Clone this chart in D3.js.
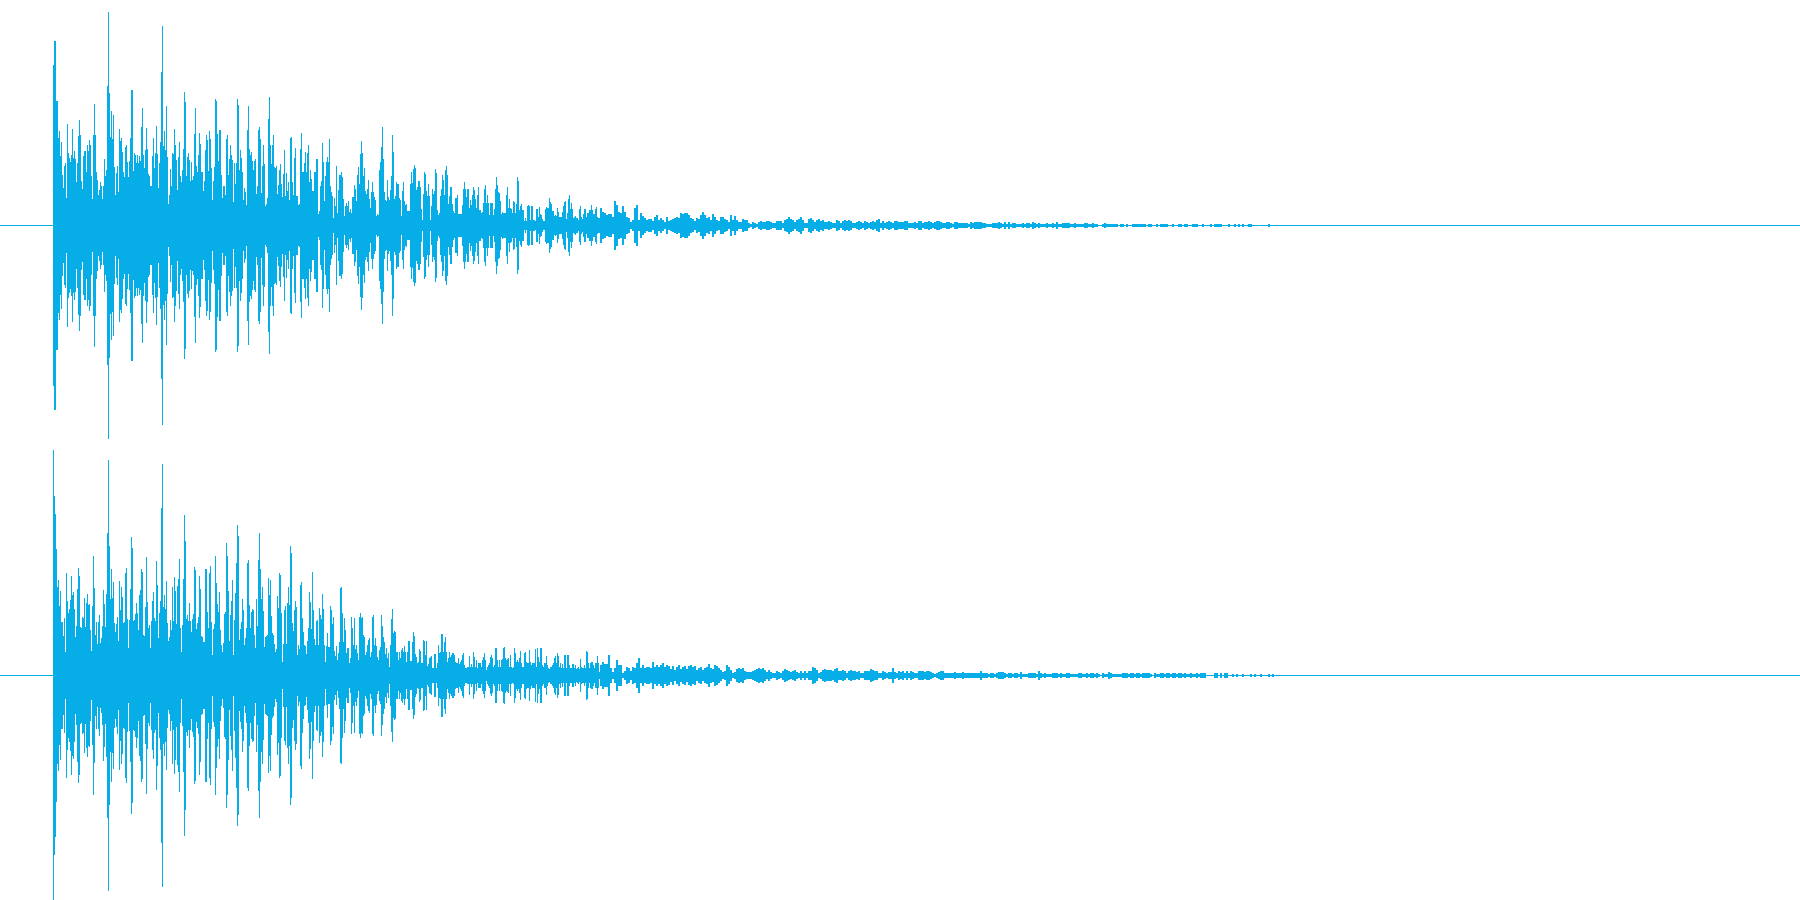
<!DOCTYPE html>
<html><head><meta charset="utf-8">
<script src="https://cdn.jsdelivr.net/npm/d3@7/dist/d3.min.js"></script>
<style>html,body{margin:0;padding:0;background:#fff;overflow:hidden}svg{display:block}</style>
</head><body><svg id="c" width="1800" height="900"></svg>
<script>
// Peak amplitude envelope, full scale = 225. "Fine" arrays hold one value per time unit, "coarse" arrays one per two units.
const channel1Fine = [160,184,184,124,124,87,94,69,83,50,37,59,62,27,101,72,67,63,70,96,67,74,66,43,62,89,105,90,44,36,69,74,74,53,80,74,85,80,49,26,90,121,90,53,45,30,35,43,39,26,39,66,49,55,
139,213,132,88,114,86,110,58,30,52,59,33,96,84,87,73,53,48,78,80,63,48,64,87,135,135,54,72,70,62,70,62,69,64,98,117,70,57,75,97,76,51,49,39,39,69,87,57,72,99,71,37,62,83,153,199,79,94,75,119,68,21,30,56,39,72,71,96,80,65,35,68,83,49,43,55,76,133,123,49,68,72,65,44,63,45,49,91,117,59,53,70,92,81,53,53,34,44,75,90,85,54,94,86,57,25,44,58,126,124,91,64,95,95,50,27,39,39,30,86,90,50,66,80,70,65,23,62,41,62,126,120,55,75,67,53,25,37,33,20,95,119,76,70,73,64,55,64,66,31,39,95,98,86,32,59,80,61,19,21,27,106,128,80,61,80,90,58,57,59,31,40,55,61,41,28,51,75,29,52,34,43,25,87,88,43,30,67,77,29,29,20,21,76,92,53,53,62,73,53,72,80,43,55,46,34,34,53,53,66,66,11,14,39,44,82,63,24,49,63,68,63,86,39,33,29,7,27,19,59,12,35,50,
50,53,48,26,9,19,22,19,24,13,16,12,28,28,40,36,24,50,58,41,71,84,72,49,57,34,31,36,45,26,17,33,43,33,28,25,9,11,10,55,63,78,98,66,33,25,24,45,28,25,35,49,90,73,26,29,43,41,41,27,25,9,34,43,24,20,21,14,14,14,41,53,42,56,60,57,35,38,44,44,38,16,5,31,53,51,34,29,41,29,5,19,36,31,34,56,52,15,10,12,29,36,50,45,30,55,59,50,21,29,38,38,21,14,12,27,27,30,11,11,11,11,20,36,43,36,28,36,36,17,25,20,30,38,35,26,17,30,38,15,15,12,13,22,36,40,22,30,22,10,22,22,22,10,16,36,48,40,33,32,24,11,13,12,12,12,30,38,17,26,17,16,12,24,23,12,21,48,44,15,19,21,15,15,4,7,4,19,20,19,5,19,19,5,5,4,16,16,8,18,11,10,6,4,4,16,18,17,17,27,23,21,14,14,9,10,9,17,13,8,8,8,13,19,23,24,6,12,26,30,16,22,16,7,8,9,7,7,5,16,19,8,6,11,16,16,8,12,12,15,15,20,15,11,11,16,18,8,7,7];

const channel1Coarse = [17,13,12,10,11,11,8,24,20,13,12,19,13,8,7,3,5,17,20,5,12,9,7,5,6,6,4,8,10,5,7,5,3,8,4,5,6,7,8,7,12,11,12,12,10,7,6,4,7,6,10,13,10,7,8,5,11,8,5,4,8,8,6,5,3,10,5,9,5,3,3,6,5,5,2,1,3,2,1,3,4,3,3,4,4,3,2,2,4,4,4,2,5,6,8,6,5,3,5,6,8,5,2,2,6,7,5,3,5,6,4,5,3,3,4,3,2,2,5,4,2,4,5,4,5,4,2,2,3,4,3,2,4,3,2,3,4,3,5,6,2,4,2,3,4,3,2,4,4,3,3,3,4,4,2,2,2,3,2,4,4,2,3,3,4,3,2,3,4,4,3,2,2,3,3,2,1,3,3,2,2,2,2,2,1,3,2,3,3,3,
3,2,2,1,1,1,2,2,2,3,2,1,3,1,3,1,2,2,1,1,1,2,1,2,2,1,3,2,1,2,1,1,1,2,1,1,2,1,3,1,1,2,2,2,2,1,1,2,1,1,1,1,2,2,1,1,2,1,1,0,0,1,2,1,1,1,1,1,1,0,1,1,0,1,0,0,1,1,1,1,1,1,1,0,1,1,0,0,1,0,1,1,1,1,0,0,1,0,0,1,1,0,1,1,0,0,1,1,1,0,0,1,0,0,0,1,0,1,1,1,1,0,0,0,1,0,0,1,0,1,0,1,0,0,1,1,0,0,0,0,0,0,0,0,1];

const channel2Fine = [225,179,161,126,88,95,69,84,53,53,39,57,23,102,74,62,66,75,99,80,83,66,38,49,86,107,99,48,47,58,57,77,48,72,81,70,71,45,24,69,119,87,40,53,31,53,60,32,37,49,85,71,48,81,142,215,129,76,106,77,93,52,43,51,58,34,94,65,88,78,52,53,102,107,56,27,55,86,138,127,54,55,61,72,62,45,80,85,106,103,40,39,68,118,73,47,50,27,54,74,83,57,54,114,90,37,62,74,167,211,68,80,66,94,52,34,38,55,45,88,54,98,84,51,89,96,116,47,23,50,96,160,134,56,60,54,72,54,43,56,61,108,105,46,52,58,99,86,39,38,33,33,106,106,63,47,102,109,53,20,46,51,119,92,71,63,83,45,30,23,32,61,63,132,119,84,34,60,74,95,20,55,82,112,150,139,35,46,53,76,65,30,37,47,112,115,70,47,63,66,65,40,27,76,49,115,142,106,76,88,64,28,38,39,40,97,80,95,59,42,40,31,23,26,79,67,102,100,62,13,31,65,69,31,72,88,70,129,122,52,44,65,74,68,20,30,26,90,93,57,43,30,29,21,34,47,83,73,46,103,65,36,30,54,55,30,67,60,56,81,66,30,13,29,42,28,28,69,65,51,58,24,19,29,15,22,33,
87,88,62,33,57,45,22,27,27,12,17,58,47,30,57,26,30,22,15,58,62,57,58,40,38,20,23,30,35,37,18,23,58,60,30,37,29,18,15,25,28,60,49,38,33,21,27,17,22,8,30,56,66,42,44,43,23,23,15,23,17,25,27,23,29,23,13,23,34,34,14,14,33,43,39,21,18,12,13,26,24,12,12,35,34,20,34,9,11,17,18,19,7,7,21,21,7,12,30,22,23,41,41,23,33,38,23,13,17,23,18,20,22,22,20,13,12,12,17,11,13,15,20,22,10,7,7,8,8,19,8,11,8,23,18,8,15,7,12,12,12,8,15,18,22,15,5,8,10,12,18,20,17,8,10,27,27,15,8,15,8,15,16,27,28,17,15,16,17,8,20,8,7,8,27,22,13,15,13,17,24,12,8,8,22,23,13,12,12,25,13,10,12,12,12,26,8,27,18,13,27,27,10,8,12,12,19,10,7,6,8,8,10,12,17,19,12,22,19,8,12,7,11,7,20,20,7,20,20,10,7,7,11,11,7,10,6,7,8,6,16,8,7,7,10,7,24,23,12,7,12,13,13,10,7,12,12,19,12,3];

const channel2Coarse = [10,13,11,11,20,7,3,7,15,10,10,2,4,8,7,4,8,7,12,17,7,10,7,8,8,7,13,8,10,8,10,12,8,10,9,6,9,5,8,10,6,8,9,6,9,10,8,9,5,7,8,5,7,8,11,7,6,10,9,7,5,3,4,10,8,5,2,3,6,7,6,7,4,3,3,3,4,5,6,7,6,7,5,3,5,3,2,2,4,3,2,4,6,5,4,3,4,5,3,2,4,2,4,2,4,4,8,7,5,2,3,5,6,5,5,5,4,6,7,4,4,5,4,2,4,5,4,4,3,4,2,2,4,4,4,6,5,4,4,2,2,4,3,2,3,3,7,3,2,4,3,4,2,4,2,4,3,2,2,4,4,4,3,4,4,3,2,1,2,3,4,4,2,2,2,2,2,3,2,2,2,3,2,2,2,2,2,2,2,2,
4,2,2,2,1,2,2,1,2,3,3,3,2,1,2,2,1,2,2,1,3,1,1,1,2,2,2,2,1,4,2,1,2,1,1,1,2,2,2,1,2,1,1,2,2,1,1,1,1,2,2,1,1,2,1,2,2,1,2,1,0,2,1,1,3,2,1,1,1,1,1,2,2,2,1,2,2,1,2,2,1,2,2,2,2,1,0,2,1,1,2,2,1,2,2,1,2,2,1,2,2,1,2,1,1,2,1,1,2,1,2,2,2,0,0,0,0,2,2,0,2,0,2,2,0,0,1,0,1,0,0,1,0,0,0,1,0,1,0,0,1,0,0,0,1,0,1];

const FULL_SCALE = 225;
const TOTAL_TIME = 1747;

const svg = d3.select('#c');
const color = '#06ade6';
const x = d3.scaleLinear().domain([0, TOTAL_TIME]).range([53, 1800]);

// Expand a channel's two resolutions to {t, step, peak} records
function toSamples(fine, coarse) {
  const a = fine.map((peak, i) => ({t: i, step: 1, peak}));
  const b = coarse.map((peak, i) => ({t: fine.length + i * 2, step: 2, peak}));
  return a.concat(b);
}

function drawChannel(fine, coarse, top, bottom) {
  const y = d3.scaleLinear().domain([-FULL_SCALE, FULL_SCALE]).range([bottom, top]);
  const g = svg.append('g').attr('shape-rendering', 'crispEdges');
  g.append('line')
    .attr('x1', 0).attr('x2', 1800)
    .attr('y1', y(0) + 0.5).attr('y2', y(0) + 0.5)
    .attr('stroke', color).attr('stroke-width', 1);
  g.selectAll('rect').data(toSamples(fine, coarse)).join('rect')
    .attr('x', d => x(d.t))
    .attr('width', d => x(d.t + d.step) - x(d.t))
    .attr('y', d => y(d.peak))
    .attr('height', d => y(-d.peak) - y(d.peak) + 1)
    .attr('fill', color);
}

drawChannel(channel1Fine, channel1Coarse, 0, 450);
drawChannel(channel2Fine, channel2Coarse, 450, 900);
</script></body></html>
